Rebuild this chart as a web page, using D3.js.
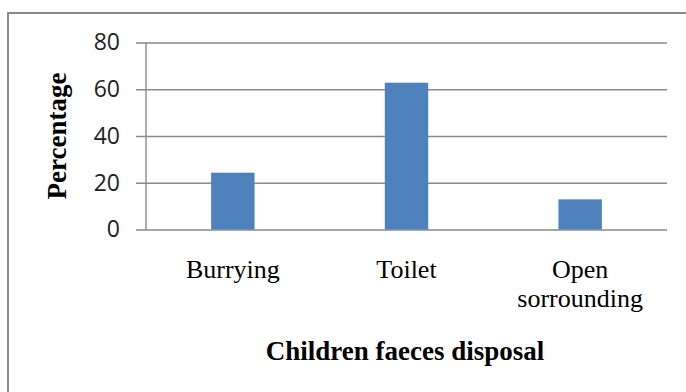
<!DOCTYPE html>
<html>
<head>
<meta charset="utf-8">
<script src="https://cdn.jsdelivr.net/npm/d3@7"></script>
<style>
  html, body { margin: 0; padding: 0; background: #fff; }
  svg { display: block; }
</style>
</head>
<body>
<script>
// Share of households by method of children's faeces disposal
const categories = ["Burrying", "Toilet", "Open sorrounding"];
const categoryLines = [["Burrying"], ["Toilet"], ["Open", "sorrounding"]];
const percentages = [24.3, 62.8, 12.9];
const yTicks = [0, 20, 40, 60, 80];

const W = 686, H = 392;
const svg = d3.select("body").append("svg").attr("width", W).attr("height", H);

// chart frame
svg.append("rect")
  .attr("x", 8).attr("y", 13)
  .attr("width", 720).attr("height", 420)
  .attr("fill", "none").attr("stroke", "#8a8a8a").attr("stroke-width", 2);

const plot = { left: 146, right: 667, top: 42.5, bottom: 229.5 };

const x = d3.scaleBand()
  .domain(categories)
  .range([plot.left, plot.right])
  .paddingInner(0.75)
  .paddingOuter(0.375);

const y = d3.scaleLinear().domain([0, 80]).range([plot.bottom, plot.top]);

// horizontal gridlines with left tick stubs
const yAxis = d3.axisLeft(y)
  .tickValues(yTicks)
  .tickSize(plot.right - plot.left + 10)
  .tickPadding(16)
  .tickFormat(d3.format("d"));

const gy = svg.append("g")
  .attr("transform", `translate(${plot.right},0)`)
  .call(yAxis);
gy.select(".domain").remove();
gy.selectAll(".tick line").attr("stroke", "#8a8a8a").attr("stroke-width", 1.4);
gy.selectAll(".tick text")
  .attr("x", -(plot.right - plot.left) - 26)
  .attr("fill", "#222")
  .style("font-family", "'Open Sans', sans-serif")
  .style("font-size", "23px");

// vertical axis line
svg.append("line")
  .attr("x1", plot.left).attr("x2", plot.left)
  .attr("y1", plot.top).attr("y2", plot.bottom)
  .attr("stroke", "#8a8a8a").attr("stroke-width", 1.4);

// bars
svg.append("g").selectAll("rect")
  .data(categories)
  .join("rect")
  .attr("x", d => x(d))
  .attr("width", x.bandwidth())
  .attr("y", (d, i) => y(percentages[i]))
  .attr("height", (d, i) => y(0) - y(percentages[i]))
  .attr("fill", "#4f81bd");

// category labels
const catG = svg.append("g")
  .style("font-family", "'Liberation Serif', 'Times New Roman', serif")
  .style("font-size", "26px")
  .attr("fill", "#000");
categories.forEach((c, i) => {
  const t = catG.append("text")
    .attr("text-anchor", "middle")
    .attr("x", x(c) + x.bandwidth() / 2)
    .attr("y", 278);
  categoryLines[i].forEach((line, j) => {
    t.append("tspan")
      .attr("x", x(c) + x.bandwidth() / 2)
      .attr("dy", j === 0 ? 0 : 29)
      .text(line);
  });
});

// axis titles
svg.append("text")
  .attr("x", 405).attr("y", 360)
  .attr("text-anchor", "middle")
  .style("font-family", "'Liberation Serif', 'Times New Roman', serif")
  .style("font-weight", "bold")
  .style("font-size", "27px")
  .text("Children faeces disposal");

svg.append("text")
  .attr("transform", "translate(66,136) rotate(-90)")
  .attr("text-anchor", "middle")
  .style("font-family", "'Liberation Serif', 'Times New Roman', serif")
  .style("font-weight", "bold")
  .style("font-size", "27px")
  .text("Percentage");
</script>
</body>
</html>
